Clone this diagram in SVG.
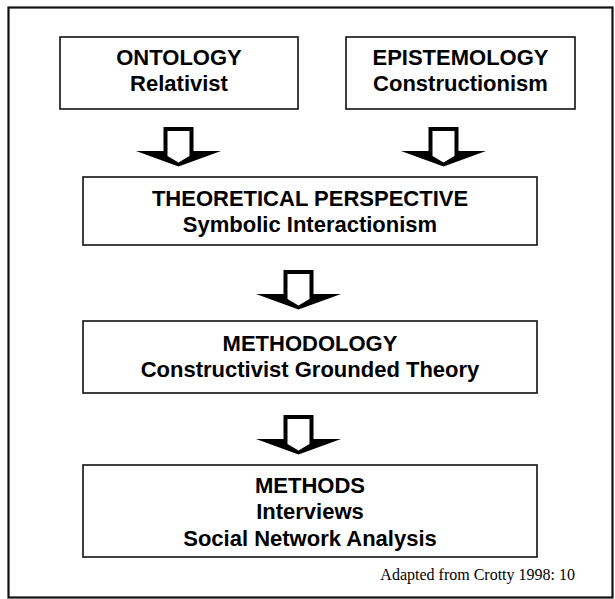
<svg xmlns="http://www.w3.org/2000/svg" width="615" height="599" viewBox="0 0 615 599">
  <defs>
    <style>
      .frame { fill: none; stroke: #111; stroke-width: 2.2; }
      .box { fill: #fff; stroke: #111; stroke-width: 1.6; }
      .lbl { font-family: "Liberation Sans", Arial, sans-serif; font-weight: bold; font-size: 22px; fill: #000; text-anchor: middle; }
      .note { font-family: "Liberation Serif", "Times New Roman", serif; font-size: 16px; fill: #000; }
      .ah { fill: #000; }
      .ahin { fill: #fff; }
    </style>
    <!-- hollow block arrow pointing down, origin at top centre of the stem -->
    <g id="down">
      <polygon class="ah" points="-15,0 15,0 15,24 42.5,24 0,39.5 -42.5,24 -15,24"/>
      <polygon class="ahin" points="-11,4 11,4 11,29 0,35.5 -11,29"/>
    </g>
  </defs>

  <rect width="615" height="599" fill="#fff"/>
  <rect class="frame" x="8.5" y="7.5" width="604" height="590"/>

  <g id="connectors">
    <use href="#down" x="178.5" y="127"/>
    <use href="#down" x="443.5" y="127"/>
    <use href="#down" x="298.5" y="270"/>
    <use href="#down" x="298.5" y="415"/>
  </g>

  <g id="ontology">
    <rect class="box" x="60" y="37" width="238" height="72"/>
    <text class="lbl" x="179" y="65">ONTOLOGY</text>
    <text class="lbl" x="179" y="91">Relativist</text>
  </g>

  <g id="epistemology">
    <rect class="box" x="346" y="37" width="229" height="72"/>
    <text class="lbl" x="460.5" y="65">EPISTEMOLOGY</text>
    <text class="lbl" x="460.5" y="91">Constructionism</text>
  </g>

  <g id="theoretical-perspective">
    <rect class="box" x="83" y="177" width="454" height="68"/>
    <text class="lbl" x="310" y="206">THEORETICAL PERSPECTIVE</text>
    <text class="lbl" x="310" y="232">Symbolic Interactionism</text>
  </g>

  <g id="methodology">
    <rect class="box" x="83" y="321" width="454" height="72"/>
    <text class="lbl" x="310" y="351">METHODOLOGY</text>
    <text class="lbl" x="310" y="377">Constructivist Grounded Theory</text>
  </g>

  <g id="methods">
    <rect class="box" x="83" y="465" width="454" height="92"/>
    <text class="lbl" x="310" y="493">METHODS</text>
    <text class="lbl" x="310" y="519">Interviews</text>
    <text class="lbl" x="310" y="546">Social Network Analysis</text>
  </g>

  <text class="note" x="575" y="580" text-anchor="end">Adapted from Crotty 1998: 10</text>
</svg>
